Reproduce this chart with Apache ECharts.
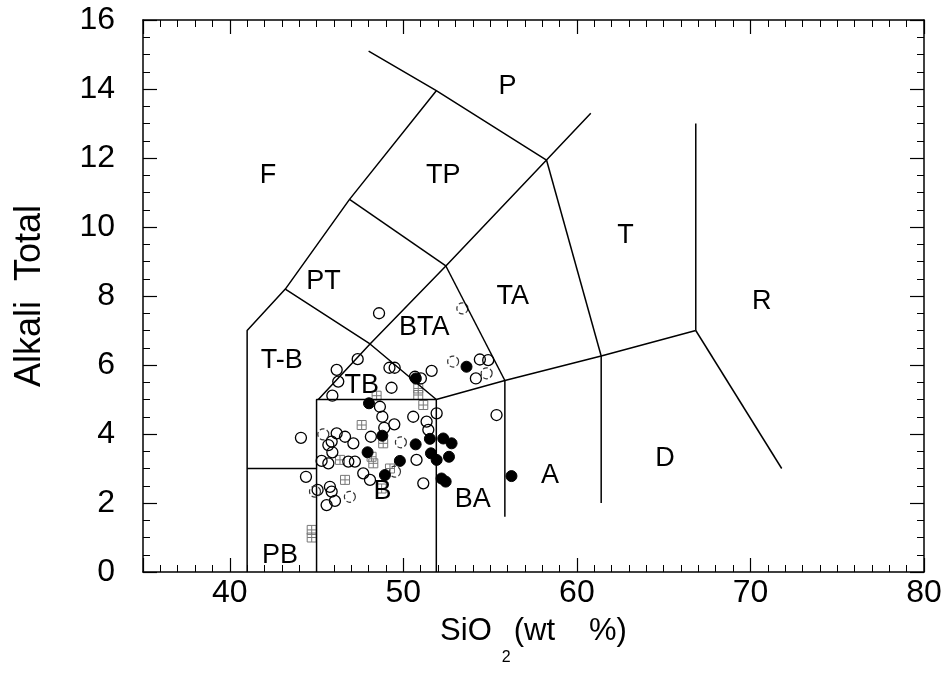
<!DOCTYPE html>
<html>
<head>
<meta charset="utf-8">
<script src="https://cdn.jsdelivr.net/npm/echarts@6/dist/echarts.min.js"></script>
<style>
  html, body { margin:0; padding:0; background:#fff; }
  #chart { width:949px; height:673px; }
</style>
</head>
<body>
<div id="chart"></div>
<script>
// ======== 境界線 (SiO2, Na2O+K2O) ========
const lineF     = [[41,0],[41,7],[43.2,8.2],[46.9,10.8],[51.9,13.95]];
const lineP     = [[48.0,15.1],[51.9,13.95],[58.25,11.94]];
const lineTP    = [[46.9,10.8],[52.45,8.87]];
const linePT    = [[43.2,8.2],[48.08,6.61],[51.9,5.0]];
const lineDiag  = [[45.1,5.0],[48.08,6.61],[52.45,8.87],[58.25,11.94],[60.8,13.3]];
const lineB     = [[45,0],[45,5],[51.9,5.0],[51.9,0]];
const linePB    = [[41,3],[45,3]];
const lineBTA   = [[52.45,8.87],[55.85,5.55]];
const lineTA    = [[58.25,11.94],[61.4,6.26]];
const lineLow   = [[51.9,5.0],[55.85,5.55],[61.4,6.26],[66.85,7.0]];
const lineBA    = [[55.85,5.55],[55.85,1.6]];
const lineA     = [[61.4,6.26],[61.4,2.0]];
const lineT     = [[66.85,13.0],[66.85,7.0]];
const lineR     = [[66.85,7.0],[71.8,3.0]];
const boundaries = [lineF,lineP,lineTP,linePT,lineDiag,lineB,linePB,lineBTA,lineTA,lineLow,lineBA,lineA,lineT,lineR];

// ======== 領域名 ========
const fieldNames = ['P','TP','F','T','PT','TA','R','T-B','BTA','TB','A','D','BA','B','PB'];
const fieldX     = [56.0,52.3,42.2,62.8,45.4,56.3,70.65,43.0,51.2,47.6,58.45,65.07,54.0,48.8,42.9];
const fieldY     = [14.06,11.48,11.48,9.74,8.43,7.97,7.83,6.14,7.1,5.39,2.81,3.3,2.09,2.32,0.49];

// ======== 試料 ========
const openPts = [
  [48.6,7.5],[47.37,6.17],[46.16,5.86],[46.25,5.52],[45.91,5.11],
  [49.2,5.92],[49.5,5.92],[50.67,5.66],[51.01,5.61],[51.63,5.83],
  [49.32,5.34],[48.65,4.79],[48.79,4.5],[49.48,4.28],[48.13,3.92],[48.9,4.18],
  [50.57,4.5],[51.34,4.36],[51.92,4.6],[51.44,4.12],
  [44.1,3.89],[46.16,4.02],[46.64,3.92],[47.12,3.73],[45.87,3.78],[45.68,3.68],
  [45.91,3.47],[45.29,3.22],[45.68,3.15],[46.83,3.2],[47.21,3.2],[47.69,2.86],
  [48.08,2.67],[50.76,3.25],[51.15,2.57],
  [44.39,2.76],[45.06,2.38],[45.77,2.47],[45.87,2.33],[45.58,1.94],[46.06,2.06],
  [54.41,6.16],[54.89,6.14],[54.18,5.61],[55.37,4.55]
];
const dashedPts = [[53.4,7.64],[52.87,6.1],[54.8,5.76],[45.39,3.99],[49.86,3.76],[49.52,2.91],[44.91,2.33],[46.92,2.18]];
const filledPts = [
  [53.64,5.95],[48.02,4.89],[48.79,3.95],[47.94,3.47],[48.94,2.81],[49.8,3.22],
  [50.71,3.7],[51.53,3.86],[51.59,3.44],[51.92,3.25],[52.3,3.87],[52.78,3.73],
  [52.63,3.34],[52.2,2.71],[52.44,2.62],[50.72,5.61],[56.23,2.78]
];
const gridPts = [
  [48.46,5.11],[47.6,4.26],[50.86,5.32],[50.86,5.13],[51.15,4.84],[48.17,3.34],
  [48.27,3.15],[48.84,3.73],[46.35,3.25],[46.64,2.67],[48.75,2.42],[49.23,3.0],
  [44.72,1.22],[44.72,1.0]
];

const FONT = '"Liberation Sans", Arial, sans-serif';
const chart = echarts.init(document.getElementById('chart'));

const axisX = (pos, showLabel) => ({
  type:'value', position:pos, min:35, max:80, splitNumber:5,
  axisLine:{ show:true, onZero:false, lineStyle:{ color:'#000', width:1.5 } },
  axisTick:{ show:true, inside:true, length:14, lineStyle:{ color:'#000', width:1.2 } },
  minorTick:{ show:true, splitNumber:10, length:7, lineStyle:{ color:'#000', width:1 } },
  splitLine:{ show:false },
  axisLabel:{ show:showLabel, margin:5, fontSize:32, color:'#000', fontFamily:FONT,
    formatter:(v)=> (v % 10 === 0 && v > 35) ? String(v) : '' }
});
const axisY = (pos, showLabel) => ({
  type:'value', position:pos, min:0, max:16, interval:2,
  axisLine:{ show:true, onZero:false, lineStyle:{ color:'#000', width:1.5 } },
  axisTick:{ show:true, inside:true, length:14, lineStyle:{ color:'#000', width:1.2 } },
  minorTick:{ show:true, splitNumber:4, length:7, lineStyle:{ color:'#000', width:1 } },
  splitLine:{ show:false },
  axisLabel:{ show:showLabel, margin:28, fontSize:32, color:'#000', fontFamily:FONT }
});

const xBottom = axisX('bottom', true);
xBottom.name = '{a|SiO}{b|2}{a|(wt}{c|%)}';
xBottom.nameLocation = 'middle';
xBottom.nameGap = 44;
xBottom.nameTextStyle = { rich:{
  a:{ fontSize:31, color:'#000', fontFamily:FONT, verticalAlign:'top' },
  b:{ fontSize:16, color:'#000', fontFamily:FONT, verticalAlign:'top', padding:[34,3,0,10] },
  c:{ fontSize:31, color:'#000', fontFamily:FONT, verticalAlign:'top', padding:[0,0,0,34] }
}};
const yLeft = axisY('left', true);
yLeft.name = 'Alkali  Total';
yLeft.nameLocation = 'middle';
yLeft.nameGap = 95;
yLeft.nameTextStyle = { fontSize:36, color:'#000', fontFamily:FONT };

const series = boundaries.map(seg => ({
  type:'line', data:seg, symbol:'none', silent:true, xAxisIndex:0, yAxisIndex:0,
  lineStyle:{ color:'#000', width:1.5 }
}));

series.push({
  type:'scatter', data:fieldX.map((x,i)=>({ value:[x, fieldY[i]], name:fieldNames[i] })),
  symbolSize:1, itemStyle:{ color:'transparent', opacity:1 }, silent:true,
  label:{ show:true, position:'inside', formatter:(p)=>p.name, fontSize:27, color:'#000', fontFamily:FONT }
});
series.push({
  type:'scatter', data:gridPts, symbol:'path://M0,0L10,0L10,10L0,10Z M5,0L5,10 M0,5L10,5',
  symbolSize:9, itemStyle:{ color:'none', borderColor:'#777', borderWidth:1, opacity:1 }
});
series.push({
  type:'scatter', data:openPts, symbol:'circle', symbolSize:11,
  itemStyle:{ color:'rgba(0,0,0,0)', borderColor:'#000', borderWidth:1.3, opacity:1 }
});
series.push({
  type:'scatter', data:dashedPts, symbol:'circle', symbolSize:11,
  itemStyle:{ color:'rgba(0,0,0,0)', borderColor:'#333', borderWidth:1.2, borderType:'dashed', opacity:1 }
});
series.push({
  type:'scatter', data:filledPts, symbol:'circle', symbolSize:11,
  itemStyle:{ color:'#000', borderColor:'#000', borderWidth:1, opacity:1 }
});

chart.setOption({
  animation:false,
  grid:{ left:143, right:25, top:20, bottom:101 },
  xAxis:[ xBottom, axisX('top', false) ],
  yAxis:[ yLeft, axisY('right', false) ],
  series
});
</script>
</body>
</html>
